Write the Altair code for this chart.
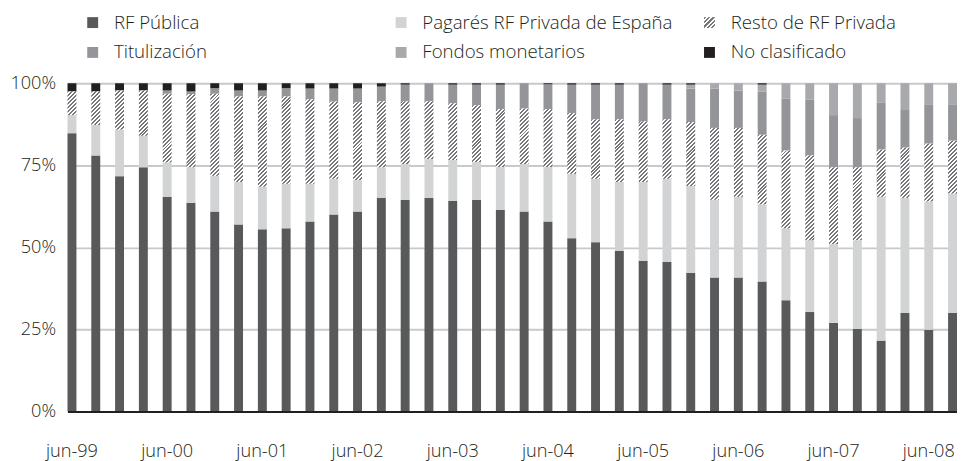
import altair as alt
import pandas as pd

periodos = ["jun-99", "sep-99", "dic-99", "mar-00", "jun-00", "sep-00", "dic-00", "mar-01",
            "jun-01", "sep-01", "dic-01", "mar-02", "jun-02", "sep-02", "dic-02", "mar-03",
            "jun-03", "sep-03", "dic-03", "mar-04", "jun-04", "sep-04", "dic-04", "mar-05",
            "jun-05", "sep-05", "dic-05", "mar-06", "jun-06", "sep-06", "dic-06", "mar-07",
            "jun-07", "sep-07", "dic-07", "mar-08", "jun-08", "sep-08"]
etiquetas_x = ["jun-99", "jun-00", "jun-01", "jun-02", "jun-03", "jun-04", "jun-05", "jun-06", "jun-07", "jun-08"]

series = ["RF Pública", "Pagarés RF Privada de España", "Resto de RF Privada",
          "Titulización", "Fondos monetarios", "No clasificado"]

rf_publica = [84.8, 78.0, 71.7, 74.4, 65.4, 63.6, 60.9, 57.0, 55.5, 55.8, 57.9, 60.0, 60.9, 65.1, 64.5, 65.1,
              64.2, 64.5, 61.5, 60.9, 57.9, 52.8, 51.6, 48.9, 45.9, 45.6, 42.3, 40.8, 40.8, 39.6, 33.9, 30.3,
              27.0, 25.2, 21.6, 30.0, 24.9, 30.0]
pagares = [5.5, 9.3, 14.2, 9.6, 10.5, 10.8, 10.9, 12.9, 13.0, 13.6, 11.5, 10.9, 9.6, 9.3, 10.9, 11.8,
           12.4, 11.5, 13.0, 14.5, 16.6, 19.6, 19.3, 21.0, 24.0, 25.3, 26.4, 23.7, 24.6, 23.5, 21.9, 21.9,
           24.0, 27.0, 43.8, 35.1, 39.1, 36.4]
resto_privada = [7.2, 10.2, 11.9, 13.8, 20.9, 22.3, 25.0, 26.1, 27.5, 26.6, 25.7, 23.5, 23.7, 20.1, 19.1, 17.6,
                 17.3, 17.3, 17.6, 16.9, 17.6, 18.5, 18.1, 19.1, 18.5, 18.1, 19.5, 21.9, 21.0, 21.2, 23.7, 25.8,
                 23.4, 22.2, 14.4, 15.3, 17.6, 16.1]
titulizacion = [0, 0, 0, 0, 1.0, 0.8, 1.7, 1.8, 1.8, 2.5, 3.3, 4.0, 4.2, 4.5, 5.1, 5.5,
                5.7, 6.3, 7.5, 7.7, 7.6, 8.7, 10.6, 10.6, 11.6, 10.6, 10.2, 12.0, 11.4, 13.2, 15.9, 17.1,
                15.9, 15.0, 14.4, 11.7, 12.0, 11.1]
fondos_monetarios = [0, 0, 0, 0, 0, 0, 0, 0, 0, 0, 0, 0, 0, 0, 0, 0,
                     0, 0, 0, 0, 0, 0, 0, 0, 0, 0, 1.2, 1.6, 2.2, 2.1, 4.6, 4.9,
                     9.7, 10.6, 5.8, 7.9, 6.4, 6.4]
no_clasificado = [2.5, 2.5, 2.2, 2.2, 2.2, 2.5, 1.5, 2.2, 2.2, 1.5, 1.6, 1.6, 1.6, 1.0, 0.4, 0,
                  0.4, 0.4, 0.4, 0, 0.3, 0.4, 0.4, 0.4, 0, 0.4, 0.4, 0, 0, 0.4, 0, 0,
                  0, 0, 0, 0, 0, 0]

valores = [rf_publica, pagares, resto_privada, titulizacion, fondos_monetarios, no_clasificado]

rows = []
for s_idx, (nombre, vals) in enumerate(zip(series, valores)):
    for periodo, v in zip(periodos, vals):
        rows.append({"periodo": periodo, "serie": nombre, "orden": s_idx, "valor": v})
df = pd.DataFrame(rows)

# styling
DARK_HATCH = "#76777a"
LIGHT_HATCH = "#ffffff"
colores = ["#58595b", "#d1d3d4", "#b0b0b0", "#939598", "#a7a9ac", "#231f20"]
PLOT_W, PLOT_H = 897, 331
BAR_W = 9
FONT = "Open Sans"
WEIGHT = 300


def stops(n, frac):
    parts = []
    for i in range(n):
        a, b, c = i / n, (i + frac) / n, (i + 1) / n
        parts += [f"{{offset:{a:.5f},color:'{DARK_HATCH}'}}", f"{{offset:{b:.5f},color:'{DARK_HATCH}'}}",
                  f"{{offset:{b:.5f},color:'{LIGHT_HATCH}'}}", f"{{offset:{c:.5f},color:'{LIGHT_HATCH}'}}"]
    return "[" + ",".join(parts) + "]"


N_STRIPES = 30
PERIOD = 4 / 1.41421356
L = N_STRIPES * PERIOD
legend_grad = "{gradient:'linear',x1:0,y1:0,x2:1,y2:1,stops:" + stops(5, 0.5) + "}"
colores[2] = alt.ExprRef(expr=legend_grad)

bar_grad = ("{gradient:'linear',x1:0,y1:0,"
            f"x2:{BAR_W}*1.41421356*{L:.5f}/({BAR_W * BAR_W}+datum.hpx*datum.hpx),"
            f"y2:datum.hpx*1.41421356*{L:.5f}/({BAR_W * BAR_W}+datum.hpx*datum.hpx),"
            "stops:" + stops(N_STRIPES, 0.5) + "}")

x_enc = alt.X("periodo:O", sort=periodos,
              scale=alt.Scale(paddingInner=0.625, paddingOuter=0),
              axis=alt.Axis(title=None, values=etiquetas_x, labelAngle=0, ticks=False, tickSize=0,
                            domain=True, domainColor="#231f20", domainWidth=2, grid=False,
                            labelFont=FONT, labelFontSize=18.3, labelFontWeight=WEIGHT, labelColor="#231f20",
                            labelPadding=31, labelBaseline="top", zindex=1))
y_enc = alt.Y("y0:Q", scale=alt.Scale(domain=[0, 100], nice=False),
              axis=alt.Axis(title=None, values=[0, 25, 50, 75, 100], labelExpr="datum.value + '%'",
                            ticks=False, tickSize=0, domain=False, grid=True, gridColor="#c9c9c9",
                            gridWidth=2, labelFont=FONT, labelFontSize=18.3, labelFontWeight=WEIGHT,
                            labelColor="#231f20", labelPadding=12))

base = alt.Chart(df).transform_stack(
    stack="valor", groupby=["periodo"], as_=["y0", "y1"],
    sort=[alt.SortField("orden", order="ascending")])

solid = base.transform_filter(alt.datum.orden != 2).mark_bar().encode(
    x=x_enc, y=y_enc, y2="y1:Q",
    color=alt.Color("serie:N", sort=series,
                    scale=alt.Scale(domain=series, range=colores),
                    legend=alt.Legend(orient="none", legendX=16, legendY=-71, direction="horizontal",
                                      columns=3, title=None, symbolType="square", symbolSize=121,
                                      symbolStrokeWidth=0, labelFont=FONT, labelFontSize=18.8,
                                      labelFontWeight=WEIGHT, labelColor="#231f20", labelLimit=400,
                                      labelOffset=12, columnPadding=28, rowPadding=10.5,
                                      gridAlign="all", padding=0)))

hatch = base.transform_filter(alt.datum.orden == 2).transform_calculate(
    hpx=f"(datum.y1 - datum.y0) * {PLOT_H / 100}"
).transform_calculate(
    grad=bar_grad
).mark_bar().encode(
    x=x_enc, y=y_enc, y2="y1:Q",
    fill=alt.Fill("grad:N", scale=None))

chart = alt.layer(solid, hatch).properties(
    width=PLOT_W, height=PLOT_H,
    autosize=alt.AutoSizeParams(type="none"),
    padding={"left": 60, "top": 74, "right": 0, "bottom": 48},
    background="white",
).configure_view(stroke=None)

chart.save("out.html", embed_options={"renderer": "svg", "actions": False})
